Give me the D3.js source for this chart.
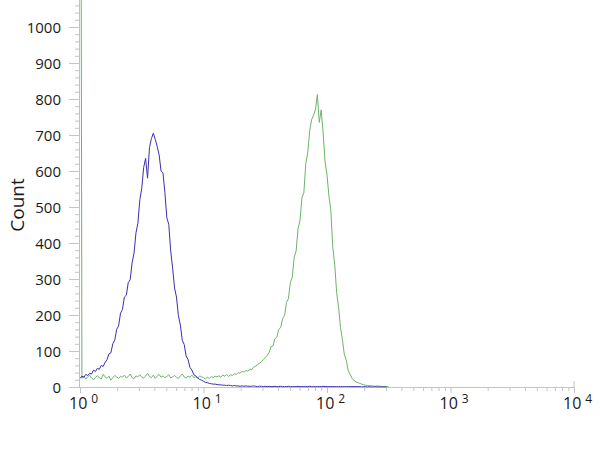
<!DOCTYPE html>
<html lang="en">
<head>
    <meta charset="utf-8">
    <script src="https://d3js.org/d3.v7.min.js"></script>
    <style>
        body { margin: 0; background: #fff; }
        text { font-family: "Open Sans", sans-serif; fill: #1a1a1a; }
        .axis path, .axis line { stroke: #c4c4c4; }
    </style>
</head>
<body>
<svg width="600" height="450"></svg>

<script>

// histogram counts per channel, 64 channels per decade, channel 0 = 10^0
var blueCounts = [
    24, 30, 27, 35, 32, 38, 36, 47, 43, 52, 49, 60, 57, 68, 76, 92, 95, 120, 130, 160,
    170, 205, 215, 250, 255, 290, 298, 345, 372, 428, 455, 520, 552, 610, 635, 580, 665, 690, 705, 688,
    668, 645, 600, 595, 540, 470, 452, 378, 330, 275, 250, 198, 172, 130, 118, 86, 76, 54, 47, 34,
    31, 25, 21, 19, 16, 13, 12, 10, 9, 8, 8, 7, 6, 6, 5, 5, 4, 5, 4, 3,
    4, 3, 3, 2, 3, 2, 3, 2, 2, 2, 3, 2, 1, 2, 2, 1, 2, 1, 2, 1,
    1, 2, 1, 1, 2, 1, 1, 1, 2, 1, 1, 1, 1, 2, 1, 1, 1, 1, 1, 2,
    1, 1, 1, 1, 1, 1, 2, 1, 1, 1, 1, 1, 1, 1, 1, 1, 1, 1, 1, 1,
    1, 1, 1, 1, 1, 1, 0, 1, 1, 0, 1, 0, 0, 1, 0, 0, 0, 0, 0, 0
];

var greenCounts = [
    3000,
    24, 30, 22, 28, 33, 25, 20, 27, 31, 26, 22, 35, 28, 24, 30, 19, 26, 32, 28, 24,
    30, 27, 33, 25, 29, 36, 26, 23, 31, 28, 34, 27, 25, 30, 38, 29, 26, 33, 24, 30,
    35, 27, 31, 26, 29, 34, 25, 28, 32, 27, 24, 31, 36, 28, 25, 30, 27, 33, 26, 29,
    24, 31, 28, 26, 22, 27, 24, 29, 26, 30,
    28, 31, 27, 33, 30, 35, 29, 34, 32, 37, 35, 40, 38, 44, 41, 46, 44, 50, 48, 55,
    58, 62, 66, 70, 76, 82, 88, 96, 112, 114, 134, 138, 160, 165, 190, 198, 235, 245, 290, 305,
    360, 378, 440, 462, 525, 540, 620, 650, 710, 742, 755, 770, 812, 735, 770, 705, 625, 590, 530, 490,
    388, 340, 262, 222, 165, 130, 90, 74, 45, 35, 24, 18, 14, 12, 10, 8, 6, 5, 4, 4,
    3, 3, 2, 3, 2, 2, 1, 2, 1, 1
];

var channelsPerDecade = 64;
var yTicks = [0, 100, 200, 300, 400, 500, 600, 700, 800, 900, 1000];
var xDecades = [0, 1, 2, 3, 4];
var yLabel = "Count";

var svg = d3.select("svg");

var x = d3.scaleLog().domain([1, 10000]).range([80, 574]);
var y = d3.scaleLinear().domain([0, 1000]).range([387, 27]);

svg.append("clipPath").attr("id", "plot")
    .append("rect").attr("x", 80).attr("y", 0).attr("width", 494).attr("height", 387.5);

// minor y ticks every 20
var yMinor = d3.range(0, 1061, 20);
svg.append("g").attr("class", "axis")
    .attr("transform", "translate(80,0)")
    .call(d3.axisLeft(y).tickValues(yMinor).tickSize(5).tickFormat(""))
    .call(function(g) { g.select(".domain").remove(); });

svg.append("g").attr("class", "axis")
    .attr("transform", "translate(80,0)")
    .call(d3.axisLeft(y).tickValues(yTicks).tickSize(11).tickPadding(8)
        .tickFormat(d3.format("d")))
    .call(function(g) {
        g.select(".domain").remove();
        g.selectAll("text").style("font-size", "15px").attr("dy", "0.35em");
    });

// y axis line
svg.append("line").attr("x1", 79.5).attr("x2", 79.5).attr("y1", 0).attr("y2", 387)
    .attr("stroke", "#b8c4c0");

// x axis: minor log ticks
var xMinor = [];
xDecades.slice(0, 4).forEach(function(d) {
    for (var k = 2; k <= 9; k++) xMinor.push(k * Math.pow(10, d));
});
svg.append("g").attr("class", "axis")
    .attr("transform", "translate(0,387)")
    .call(d3.axisBottom(x).tickValues(xMinor).tickSize(4).tickFormat(""))
    .call(function(g) { g.select(".domain").remove(); });

svg.append("g").attr("class", "axis")
    .attr("transform", "translate(0,387)")
    .call(d3.axisBottom(x).tickValues(xDecades.map(function(d) { return Math.pow(10, d); }))
        .tickSize(6).tickSizeOuter(0).tickFormat(""));

// end marker at 10^4
svg.append("line").attr("x1", x(10000)).attr("x2", x(10000)).attr("y1", 381).attr("y2", 387)
    .attr("stroke", "#c4c4c4");

// decade labels with superscripts
var xl = svg.append("g");
xDecades.forEach(function(d) {
    var t = xl.append("text")
        .attr("x", x(Math.pow(10, d)) - 11)
        .attr("y", 409)
        .style("font-size", "16px");
    t.append("tspan").text("10");
    t.append("tspan").attr("dx", 4).attr("dy", -6).style("font-size", "12px").text(d);
});

// y label
svg.append("text")
    .attr("transform", "translate(24,205) rotate(-90)")
    .attr("text-anchor", "middle")
    .style("font-size", "19px")
    .text(yLabel);

var line = d3.line()
    .x(function(d, i) { return x(Math.pow(10, i / channelsPerDecade)); })
    .y(function(d) { return y(d); });

var plot = svg.append("g").attr("clip-path", "url(#plot)");

plot.append("path").datum(greenCounts)
    .attr("fill", "none").attr("stroke", "#6cb46a").attr("stroke-width", 1)
    .attr("d", line);

plot.append("path").datum(blueCounts)
    .attr("fill", "none").attr("stroke", "#3a30ad").attr("stroke-width", 1)
    .attr("d", line);

</script>
</body>
</html>
